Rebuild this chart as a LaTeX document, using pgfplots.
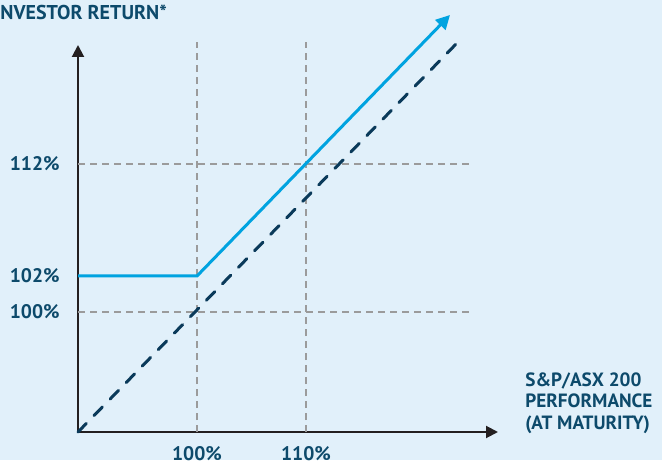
\documentclass[border=0pt]{standalone}
\usepackage{pgfplots}
\pgfplotsset{compat=1.18}
\usepackage{fontspec}
\setmainfont{PT Sans}
\usetikzlibrary{arrows.meta}
\definecolor{bg}{HTML}{E1F0FA}
\definecolor{navy}{HTML}{0D4A6B}
\definecolor{sky}{HTML}{00A3E0}
\definecolor{dnavy}{HTML}{0A3A5A}
\definecolor{gridg}{HTML}{9B9B9B}
\definecolor{axk}{HTML}{231F20}
\begin{document}
\begin{tikzpicture}[x=0.5pt,y=0.5pt]
\fill[bg] (0,0) rectangle (662,460);
\useasboundingbox (0,0) rectangle (662,460);
\node[anchor=base west, inner sep=0pt, text=navy, font=\fontsize{10}{11}\selectfont\bfseries] at (0,440) {NVESTOR RETURN*};
\node[anchor=north west, inner sep=0pt, text=navy, font=\fontsize{9.6}{10.8}\selectfont\bfseries, align=left] at (525,88) {S\&P/ASX 200\\PERFORMANCE\\(AT MATURITY)};
\begin{axis}[
  at={(39pt,14pt)}, anchor=origin,
  x=0.5pt, y=0.5pt, scale only axis,
  xmin=0, xmax=420, ymin=0, ymax=387,
  clip=false,
  axis lines=left,
  axis line style={axk, line width=1pt, -{Triangle[length=6pt,width=6pt]}},
  xtick={119,228}, xticklabels={100\%,110\%},
  ytick={120,156,268}, yticklabels={100\%,102\%,112\%},
  major tick length=0pt,
  tick label style={text=navy, font=\fontsize{9.8}{10}\selectfont\bfseries},
  /pgf/number format/assume math mode=true,
  yticklabel style={anchor=east, inner sep=0pt, xshift=-9pt},
  xticklabel style={anchor=north, inner sep=0pt, yshift=-7pt},
]
\addplot[gridg, line width=1pt, dash pattern=on 3.5pt off 2.5pt] coordinates {(119,0) (119,390)};
\addplot[gridg, line width=1pt, dash pattern=on 3.5pt off 2.5pt] coordinates {(228,0) (228,390)};
\addplot[gridg, line width=1pt, dash pattern=on 3.5pt off 2.5pt] coordinates {(0,268) (392,268)};
\addplot[gridg, line width=1pt, dash pattern=on 3.5pt off 2.5pt] coordinates {(0,120) (392,120)};
\addplot[dnavy, line width=1.5pt, line cap=round, dash pattern=on 6pt off 5.5pt] coordinates {(0,0) (380,390)};
\addplot[sky, line width=1.5pt, -{Triangle[length=7pt,width=7pt]}] coordinates {(0,156) (119,156) (372,417)};
\end{axis}
\end{tikzpicture}
\end{document}
